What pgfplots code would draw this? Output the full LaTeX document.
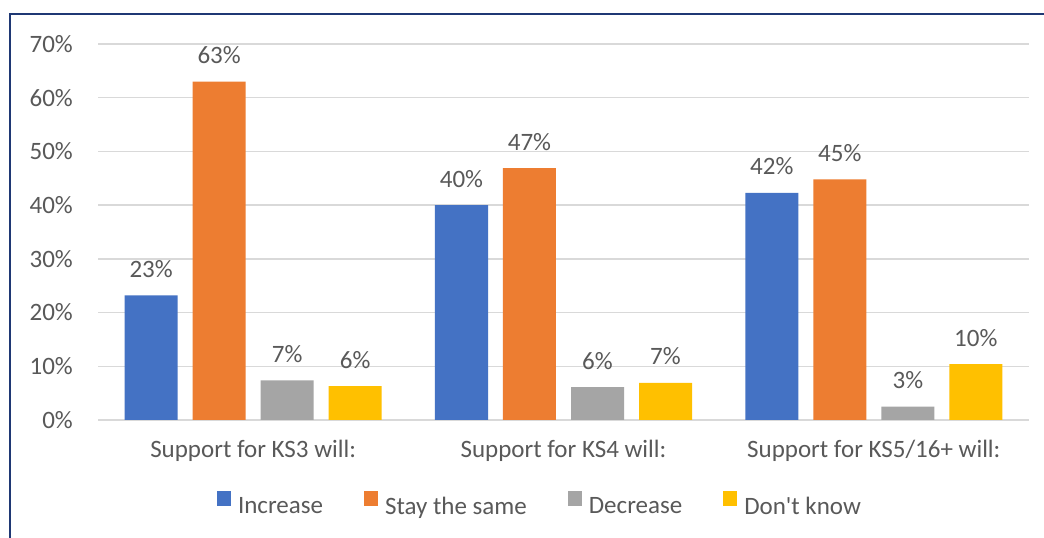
\documentclass[border=0pt]{standalone}
\usepackage{pgfplots}
\pgfplotsset{compat=1.18}
\usepackage{fontspec}
\setmainfont{Carlito}
\definecolor{c1}{HTML}{4472C4}
\definecolor{c2}{HTML}{ED7D31}
\definecolor{c3}{HTML}{A5A5A5}
\definecolor{c4}{HTML}{FFC000}
\definecolor{gridcol}{HTML}{D9D9D9}
\definecolor{txt}{HTML}{595959}
\definecolor{framecol}{HTML}{1F3874}
\newcommand{\chartfont}{\fontsize{25}{30}\selectfont}
\begin{document}
\begin{tikzpicture}
\useasboundingbox (0pt,0pt) rectangle (1044pt,538pt);
\fill[white] (0pt,0pt) rectangle (1044pt,538pt);
\draw[framecol, line width=1.6pt] (10pt,0pt) -- (10pt,524pt) -- (1044pt,524pt);
\begin{axis}[
  at={(98pt,118pt)}, anchor=south west,
  scale only axis, width=931pt, height=376pt,
  ybar, bar width=0.1708,
  xmin=-0.5, xmax=2.5, ymin=0, ymax=70,
  xtick={0,1,2},
  xticklabels={Support for KS3 will:, Support for KS4 will:, Support for KS5/16+ will:},
  ytick={0,10,...,70},
  yticklabel={\pgfmathprintnumber{\tick}\%},
  /pgf/number format/assume math mode=true,
  axis line style={draw=none},
  major tick length=0pt,
  tick style={draw=none},
  ymajorgrids, major grid style={gridcol, line width=1.5pt},
  ticklabel style={font=\chartfont, text=txt},
  yticklabel style={inner sep=0pt, anchor=east, xshift=-25pt},
  xticklabel style={inner sep=0pt, anchor=north, yshift=-20pt},
  point meta=explicit symbolic,
  nodes near coords,
  nodes near coords style={font=\chartfont, text=txt, anchor=base, inner sep=0pt, yshift=18pt},
  legend style={at={(0.4737,-0.222)}, anchor=center, draw=none, fill=none,
    font=\chartfont, text=txt, legend columns=-1,
    nodes={inner sep=0pt, text=txt},
    /tikz/every even column/.append style={column sep=41pt},
    /tikz/every odd column/.append style={column sep=7pt}},
  legend image code/.code={\fill[#1] (0pt,0pt) rectangle (14pt,15pt);},
]
\addplot[fill=c1, draw=none, bar shift=-0.3287] coordinates {(0,23.2) [23\%] (1,40.0) [40\%] (2,42.3) [42\%]};
\addplot[fill=c2, draw=none, bar shift=-0.1096] coordinates {(0,63.0) [63\%] (1,46.9) [47\%] (2,44.8) [45\%]};
\addplot[fill=c3, draw=none, bar shift=0.1096] coordinates {(0,7.4) [7\%] (1,6.1) [6\%] (2,2.5) [3\%]};
\addplot[fill=c4, draw=none, bar shift=0.3287] coordinates {(0,6.3) [6\%] (1,6.9) [7\%] (2,10.4) [10\%]};
\legend{Increase, Stay the same, Decrease, Don\textquotesingle t know}
\end{axis}
\end{tikzpicture}
\end{document}
